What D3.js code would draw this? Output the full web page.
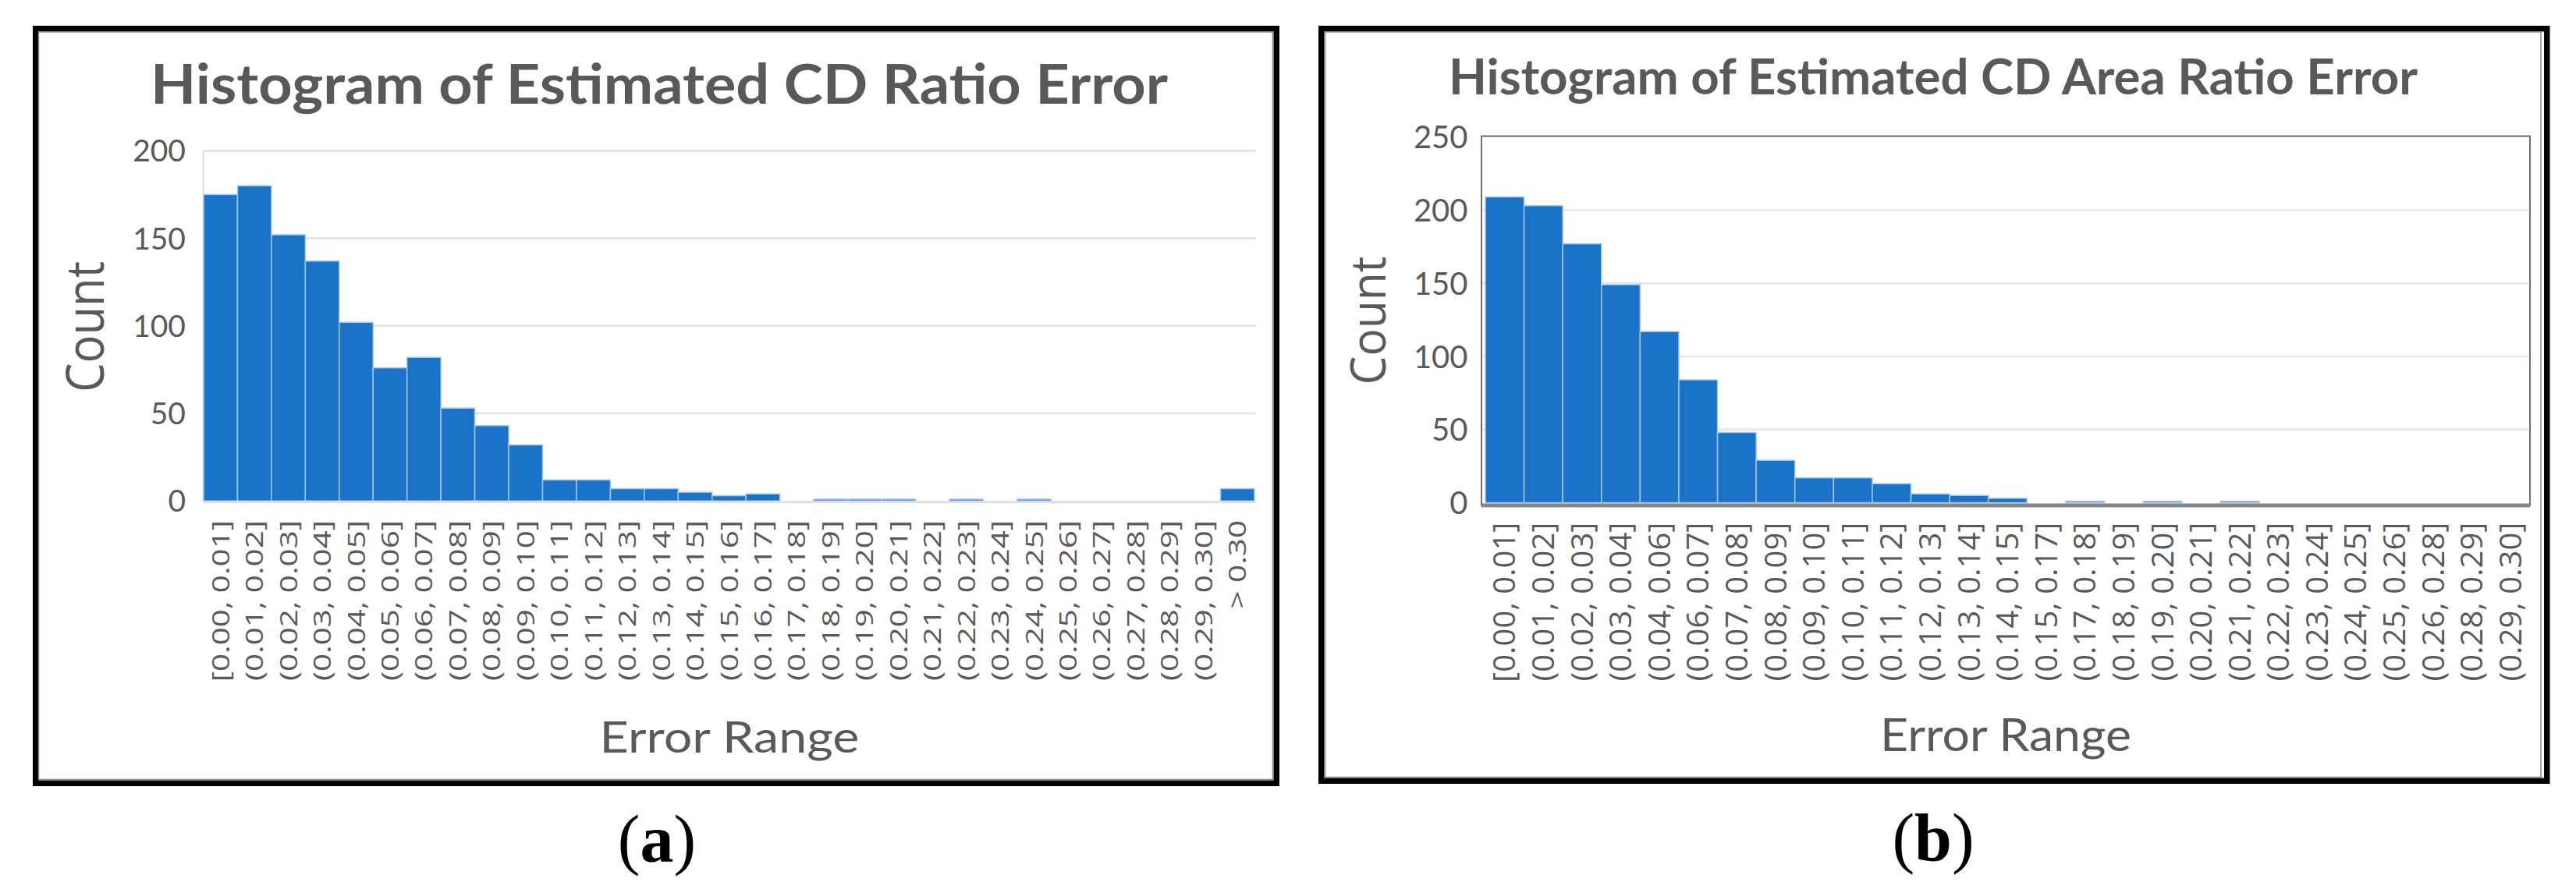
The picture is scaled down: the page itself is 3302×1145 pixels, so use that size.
<!DOCTYPE html>
<html><head><meta charset="utf-8">
<script src="https://cdn.jsdelivr.net/npm/d3@7"></script>
<style>body{margin:0;background:#fff;} svg{display:block;}</style>
</head><body>
<svg id="c" width="3302" height="1145"></svg>
<script>
// ---------------- DATA ----------------
const titleA = "Histogram of Estimated CD Ratio Error";
const titleB = "Histogram of Estimated CD Area Ratio Error";
const xAxisTitle = "Error Range";
const yAxisTitle = "Count";
const captionLetters = ["a", "b"];

const categoriesA = ["[0.00, 0.01]","(0.01, 0.02]","(0.02, 0.03]","(0.03, 0.04]","(0.04, 0.05]",
  "(0.05, 0.06]","(0.06, 0.07]","(0.07, 0.08]","(0.08, 0.09]","(0.09, 0.10]","(0.10, 0.11]",
  "(0.11, 0.12]","(0.12, 0.13]","(0.13, 0.14]","(0.14, 0.15]","(0.15, 0.16]","(0.16, 0.17]",
  "(0.17, 0.18]","(0.18, 0.19]","(0.19, 0.20]","(0.20, 0.21]","(0.21, 0.22]","(0.22, 0.23]",
  "(0.23, 0.24]","(0.24, 0.25]","(0.25, 0.26]","(0.26, 0.27]","(0.27, 0.28]","(0.28, 0.29]",
  "(0.29, 0.30]","> 0.30"];
const countsA = [175,180,152,137,102,76,82,53,43,32,12,12,7,7,5,3,4,0,1,1,1,0,1,0,1,0,0,0,0,0,7];
const yTicksA = [0,50,100,150,200];

const categoriesB = ["[0.00, 0.01]","(0.01, 0.02]","(0.02, 0.03]","(0.03, 0.04]","(0.04, 0.06]",
  "(0.06, 0.07]","(0.07, 0.08]","(0.08, 0.09]","(0.09, 0.10]","(0.10, 0.11]","(0.11, 0.12]",
  "(0.12, 0.13]","(0.13, 0.14]","(0.14, 0.15]","(0.15, 0.17]","(0.17, 0.18]","(0.18, 0.19]",
  "(0.19, 0.20]","(0.20, 0.21]","(0.21, 0.22]","(0.22, 0.23]","(0.23, 0.24]","(0.24, 0.25]",
  "(0.25, 0.26]","(0.26, 0.28]","(0.28, 0.29]","(0.29, 0.30]"];
const countsB = [209,203,177,149,117,84,48,29,17,17,13,6,5,3,0,1,0,1,0,1,0,0,0,0,0,0,0];
const yTicksB = [0,50,100,150,200,250];

// ---------------- LAYOUT ----------------
const panels = [
  { cats: categoriesA, vals: countsA, ticks: yTicksA, title: titleA, letter: captionLetters[0], style: "a",
    frame: [42, 33, 1640, 1008], inner: [49.5, 41, 1631.5, 999.5],
    plotL: 260.7, plotR: 1610, barL: 261, barR: 1608, yTop: 193.3, yZero: 642.3,
    titleCx: 845, titleY: 133, titleSize: 71, titleW: 1304,
    yLabX: 238, yLabSize: 39,
    countX: 133, countY: 419, countSize: 68, countLen: 168,
    xLabTop: 667, xLabSize: 31.5, xLabLen: 206,
    xtCx: 935, xtY: 965, xtSize: 56, xtW: 333,
    capCx: 842, capY: 1105 },
  { cats: categoriesB, vals: countsB, ticks: yTicksB, title: titleB, letter: captionLetters[1], style: "b",
    frame: [1690, 33, 3268.5, 1005], inner: [1698.5, 41, 3257, 996.5],
    plotL: 1899, plotR: 3243, barL: 1904, barR: 3243, yTop: 175.6, yZero: 644.6,
    titleCx: 2478, titleY: 121, titleSize: 63, titleW: 1242,
    yLabX: 1881.5, yLabSize: 40,
    countX: 1776, countY: 411, countSize: 62, countLen: 165,
    xLabTop: 669.6, xLabSize: 39, xLabLen: 204,
    xtCx: 2571, xtY: 963, xtSize: 58, xtW: 322,
    capCx: 2478, capY: 1103 }
];

const svg = d3.select("#c");
const textColor = "#595959";
const barFill = "#1a73c9";
const barStroke = "#a6c6ec";

panels.forEach(p => {
  const g = svg.append("g");
  const [fx0, fy0, fx1, fy1] = p.frame;
  const fw = 7.5;
  // outer black frame
  g.append("rect").attr("x", fx0 + fw/2).attr("y", fy0 + fw/2)
    .attr("width", fx1 - fx0 - fw).attr("height", fy1 - fy0 - fw)
    .attr("fill", "#fff").attr("stroke", "#000").attr("stroke-width", fw);
  const [ix0, iy0, ix1, iy1] = p.inner;
  g.append("rect").attr("x", ix0).attr("y", iy0).attr("width", ix1 - ix0).attr("height", iy1 - iy0)
    .attr("fill", "none").attr("stroke", "#8a8a8a").attr("stroke-width", 1.5);

  const yMax = p.ticks[p.ticks.length - 1];
  const y = d3.scaleLinear().domain([0, yMax]).range([p.yZero, p.yTop]);
  const x = d3.scaleBand().domain(p.cats).range([p.barL, p.barR]).padding(0);

  // gridlines
  const grid = p.style === "a" ? p.ticks.filter(t => t > 0) : p.ticks.filter(t => t > 0 && t < yMax);
  g.append("g").selectAll("line").data(grid).join("line")
    .attr("x1", p.plotL).attr("x2", p.plotR)
    .attr("y1", d => y(d)).attr("y2", d => y(d))
    .attr("stroke", p.style === "a" ? "#e2e2e2" : "#e6e6e6").attr("stroke-width", 2.5);

  if (p.style === "a") {
    g.append("line").attr("x1", p.plotL).attr("x2", p.plotL).attr("y1", p.yTop).attr("y2", p.yZero)
      .attr("stroke", "#dcdcdc").attr("stroke-width", 2);
  }

  // bars
  g.append("g").selectAll("rect").data(p.vals).join("rect")
    .attr("x", (d, i) => x(p.cats[i]))
    .attr("width", x.bandwidth())
    .attr("y", d => y(d))
    .attr("height", d => p.yZero - y(d))
    .attr("fill", barFill).attr("stroke", barStroke).attr("stroke-width", 1.5)
    .attr("display", d => d > 0 ? null : "none");

  // axis lines
  if (p.style === "a") {
    g.append("line").attr("x1", p.plotL).attr("x2", p.plotR).attr("y1", p.yZero + 1.5).attr("y2", p.yZero + 1.5)
      .attr("stroke", "#e0e0e0").attr("stroke-width", 3);
  } else {
    g.append("rect").attr("x", p.plotL).attr("y", p.yTop - 1).attr("width", p.plotR - p.plotL)
      .attr("height", p.yZero + 3.5 - p.yTop + 1)
      .attr("fill", "none").attr("stroke", "#6f6f6f").attr("stroke-width", 2);
    g.append("line").attr("x1", p.plotL).attr("x2", p.plotR).attr("y1", p.yZero + 3.5).attr("y2", p.yZero + 3.5)
      .attr("stroke", "#858585").attr("stroke-width", 5);
  }

  // y tick labels via axis
  const yAxis = d3.axisLeft(y).tickValues(p.ticks).tickSize(0).tickPadding(0).tickFormat(d3.format("d"));
  const ya = g.append("g").attr("transform", `translate(${p.yLabX},0)`).call(yAxis);
  ya.select(".domain").remove();
  ya.selectAll("text").attr("font-family", "Lato, 'Open Sans', sans-serif")
    .attr("font-size", p.yLabSize).attr("fill", textColor).attr("x", 0).attr("dy", "0.35em");

  // x tick labels (rotated)
  const xl = g.append("g");
  const labels = xl.selectAll("text").data(p.cats).join("text")
    .attr("transform", d => `translate(${x(d) + x.bandwidth()/2},${p.xLabTop}) rotate(-90)`)
    .attr("text-anchor", "end").attr("dy", "0.35em")
    .attr("font-family", "'Open Sans', sans-serif").attr("font-size", p.xLabSize)
    .attr("fill", textColor).text(d => d);
  const refLen = labels.filter((d, i) => i === 1).node().getComputedTextLength();
  const ratio = p.xLabLen / refLen;
  labels.each(function() {
    const L = this.getComputedTextLength();
    d3.select(this).attr("textLength", L * ratio).attr("lengthAdjust", "spacingAndGlyphs");
  });

  // title
  g.append("text").attr("x", p.titleCx).attr("y", p.titleY).attr("text-anchor", "middle")
    .attr("font-family", "Lato, sans-serif").attr("font-weight", "bold").attr("font-size", p.titleSize)
    .attr("fill", textColor).attr("textLength", p.titleW).attr("lengthAdjust", "spacingAndGlyphs")
    .text(p.title);

  // y axis title
  g.append("text").attr("transform", `translate(${p.countX},${p.countY}) rotate(-90)`)
    .attr("text-anchor", "middle").attr("font-family", "'Open Sans', sans-serif")
    .attr("font-size", p.countSize).attr("fill", textColor)
    .attr("textLength", p.countLen).attr("lengthAdjust", "spacingAndGlyphs").text(yAxisTitle);

  // x axis title
  g.append("text").attr("x", p.xtCx).attr("y", p.xtY).attr("text-anchor", "middle")
    .attr("font-family", "Lato, sans-serif").attr("font-size", p.xtSize).attr("fill", textColor)
    .attr("textLength", p.xtW).attr("lengthAdjust", "spacingAndGlyphs").text(xAxisTitle);

  // caption
  const cap = svg.append("text").attr("x", p.capCx).attr("y", p.capY).attr("text-anchor", "middle")
    .attr("font-family", "'Liberation Serif', 'Times New Roman', serif").attr("font-size", 86).attr("fill", "#000");
  cap.append("tspan").text("(");
  cap.append("tspan").attr("font-weight", "bold").text(p.letter);
  cap.append("tspan").text(")");
});
</script>
</body></html>
